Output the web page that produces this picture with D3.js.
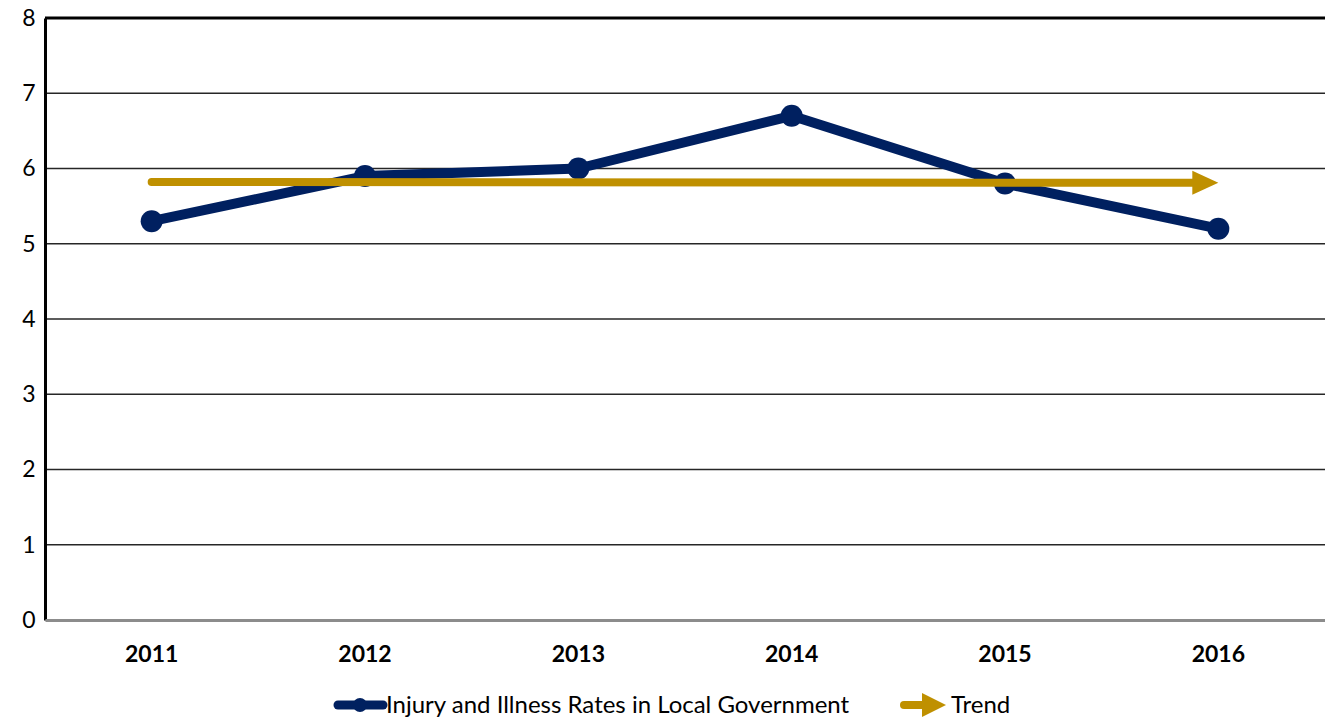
<!DOCTYPE html>
<html>
<head>
<meta charset="utf-8">
<script src="https://cdn.jsdelivr.net/npm/d3@7"></script>
<style>
    body { margin: 0; background: #fff; }
    text { font-family: Lato, "Open Sans", sans-serif; }
</style>
</head>
<body>
<div id="chart"></div>
<script>
const years = ['2011', '2012', '2013', '2014', '2015', '2016'];
const rates = [5.3, 5.9, 6.0, 6.7, 5.8, 5.2];
// trend line: start and end values
const trendYears = ['2011', '2016'];
const trendValues = [5.82, 5.81];
const yTicks = [0, 1, 2, 3, 4, 5, 6, 7, 8];

const W = 1325, H = 717;
const margin = { top: 18, right: 0, bottom: 97, left: 45 };
const width = W - margin.left - margin.right;
const height = H - margin.top - margin.bottom;

const navy = '#002060';
const gold = '#BF9000';

const svg = d3.select('#chart').append('svg')
    .attr('width', W)
    .attr('height', H);

const g = svg.append('g')
    .attr('transform', `translate(${margin.left},${margin.top})`);

const x = d3.scaleBand()
    .domain(years)
    .range([0, width]);

const y = d3.scaleLinear()
    .domain([0, 8])
    .range([height, 0]);

const cx = d => x(d) + x.bandwidth() / 2;

// gridlines
g.append('g')
    .selectAll('line')
    .data(yTicks.filter(t => t > 0 && t < 8))
    .enter().append('line')
    .attr('x1', 0)
    .attr('x2', width)
    .attr('y1', d => y(d))
    .attr('y2', d => y(d))
    .attr('stroke', '#262626')
    .attr('stroke-width', 1.5);

// top border
g.append('line')
    .attr('x1', 0).attr('x2', width)
    .attr('y1', y(8)).attr('y2', y(8))
    .attr('stroke', '#000')
    .attr('stroke-width', 3);

// y axis
const yAxis = g.append('g')
    .call(d3.axisLeft(y).tickValues(yTicks).tickSize(0).tickPadding(24));
yAxis.select('.domain').attr('stroke', '#000').attr('stroke-width', 3);
yAxis.selectAll('text')
    .attr('font-size', 23)
    .attr('fill', '#000')
    .attr('text-anchor', 'middle')
    .attr('dx', 8)
    .style('font-family', 'Lato, "Open Sans", sans-serif');

// x axis
const xAxis = g.append('g')
    .attr('transform', `translate(0,${height})`)
    .call(d3.axisBottom(x).tickSize(0).tickPadding(26));
xAxis.select('.domain').attr('stroke', '#8c8c8c').attr('stroke-width', 3);
xAxis.selectAll('text')
    .attr('font-size', 23)
    .attr('font-weight', 'bold')
    .attr('fill', '#000')
    .style('font-family', 'Lato, "Open Sans", sans-serif');

// data line
const line = d3.line()
    .x((d, i) => cx(years[i]))
    .y(d => y(d));

g.append('path')
    .datum(rates)
    .attr('fill', 'none')
    .attr('stroke', navy)
    .attr('stroke-width', 10)
    .attr('stroke-linejoin', 'round')
    .attr('d', line);

g.selectAll('.dot')
    .data(rates)
    .enter().append('circle')
    .attr('class', 'dot')
    .attr('cx', (d, i) => cx(years[i]))
    .attr('cy', d => y(d))
    .attr('r', 11)
    .attr('fill', navy);

// trend arrow
g.append('path')
    .datum(trendValues)
    .attr('fill', 'none')
    .attr('stroke', gold)
    .attr('stroke-width', 8)
    .attr('stroke-linecap', 'round')
    .attr('d', d => {
        // stop the shaft where the arrowhead starts
        const x0 = cx(trendYears[0]), x1 = cx(trendYears[1]) - 24;
        return `M${x0},${y(d[0])} L${x1},${y(d[1])}`;
    });
g.append('path')
    .datum(trendValues)
    .attr('fill', gold)
    .attr('d', d => {
        const xe = cx(trendYears[1]), ye = y(d[1]);
        return `M${xe - 26},${ye - 12} L${xe},${ye} L${xe - 26},${ye + 12} Z`;
    });

// legend
const legend = svg.append('g').attr('transform', 'translate(0,705)');
legend.append('line')
    .attr('x1', 338).attr('x2', 383)
    .attr('stroke', navy).attr('stroke-width', 9)
    .attr('stroke-linecap', 'round');
legend.append('circle')
    .attr('cx', 360).attr('r', 7).attr('fill', navy);
legend.append('text')
    .attr('x', 386).attr('y', 8)
    .attr('font-size', 24)
    .attr('fill', '#000')
    .text('Injury and Illness Rates in Local Government');

legend.append('line')
    .attr('x1', 904).attr('x2', 925)
    .attr('stroke', gold).attr('stroke-width', 8)
    .attr('stroke-linecap', 'round');
legend.append('path')
    .attr('d', 'M922,-12 L946,0 L922,12 Z')
    .attr('fill', gold);
legend.append('text')
    .attr('x', 951).attr('y', 8)
    .attr('font-size', 24)
    .attr('fill', '#000')
    .text('Trend');
</script>
</body>
</html>
